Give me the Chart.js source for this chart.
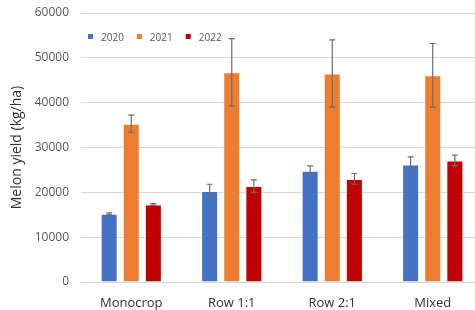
<!DOCTYPE html>
<html>
<head>
<meta charset="utf-8">
<script src="https://cdn.jsdelivr.net/npm/chart.js@4/dist/chart.umd.min.js"></script>
<style>
  html, body { margin: 0; padding: 0; background: #fff; overflow: hidden; }
  #wrap { width: 484px; height: 310px; }
</style>
</head>
<body>
<div id="wrap"><canvas id="chart"></canvas></div>
<script>
const categories = ['Monocrop', 'Row 1:1', 'Row 2:1', 'Mixed'];
const years = ['2020', '2021', '2022'];
const colors = ['#4472C4', '#ED7D31', '#C00000'];

const yield2020 = [15200, 20300, 24800, 26200];
const yield2021 = [35300, 46800, 46500, 46100];
const yield2022 = [17300, 21400, 23000, 27100];

const err2020 = [200, 1500, 1100, 1700];
const err2021 = [1900, 7500, 7500, 7100];
const err2022 = [200, 1400, 1200, 1200];

const yTicks = [0, 10000, 20000, 30000, 40000, 50000, 60000];

const series = [yield2020, yield2021, yield2022];
const errors = [err2020, err2021, err2022];

// error bars drawn from the y scale
const errorBars = {
  id: 'errorBars',
  afterDatasetsDraw(chart) {
    const ctx = chart.ctx;
    const y = chart.scales.y;
    ctx.save();
    ctx.strokeStyle = '#6e6e6e';
    ctx.lineWidth = 1.2;
    chart.data.datasets.forEach((ds, i) => {
      const meta = chart.getDatasetMeta(i);
      meta.data.forEach((bar, j) => {
        const v = ds.data[j], e = errors[i][j];
        const top = y.getPixelForValue(v + e);
        const bot = y.getPixelForValue(v - e);
        ctx.beginPath();
        ctx.moveTo(bar.x, top); ctx.lineTo(bar.x, bot);
        ctx.moveTo(bar.x - 3, top); ctx.lineTo(bar.x + 3, top);
        ctx.moveTo(bar.x - 3, bot); ctx.lineTo(bar.x + 3, bot);
        ctx.stroke();
      });
    });
    ctx.restore();
  }
};

// legend inside the plot, top left
const innerLegend = {
  id: 'innerLegend',
  afterDraw(chart) {
    const ctx = chart.ctx;
    ctx.save();
    ctx.font = '10px "Open Sans"';
    ctx.textBaseline = 'middle';
    let x = chart.chartArea.left + 7;
    const cy = 37;
    chart.data.datasets.forEach(ds => {
      ctx.fillStyle = ds.backgroundColor;
      ctx.fillRect(x, cy - 3, 5, 5);
      ctx.fillStyle = '#595959';
      ctx.fillText(ds.label, x + 13, cy + 1);
      x += 13 + ctx.measureText(ds.label).width + 13;
    });
    ctx.restore();
  }
};

new Chart(document.getElementById('chart'), {
  type: 'bar',
  data: {
    labels: categories,
    datasets: years.map((yr, i) => ({
      label: yr,
      data: series[i],
      backgroundColor: colors[i],
      borderColor: 'rgba(255,255,255,0.35)',
      borderWidth: 1,
      categoryPercentage: 0.66,
      barPercentage: 0.77
    }))
  },
  options: {
    responsive: true,
    maintainAspectRatio: false,
    animation: false,
    layout: { padding: { top: 13, right: 1, left: 0, bottom: 0 } },
    plugins: {
      legend: { display: false },
      tooltip: { enabled: false }
    },
    scales: {
      y: {
        min: 0,
        max: 60000,
        afterBuildTicks: (axis) => { axis.ticks = yTicks.map(v => ({ value: v })); },
        afterFit: (axis) => {
          axis.width = 81;
          // tick padding would otherwise push the plot top down
          axis.paddingTop = 0;
          axis.paddingBottom = 0;
        },
        grid: { color: '#d9d9d9', drawTicks: false },
        border: { display: false },
        ticks: {
          padding: 12,
          color: '#595959',
          font: { family: 'Open Sans', size: 12 },
          callback: v => String(v)
        },
        title: {
          display: true,
          text: 'Melon yield (kg/ha)',
          color: '#333333',
          font: { family: 'Open Sans', size: 14 },
          padding: { top: 9, bottom: 4 }
        }
      },
      x: {
        afterFit: (axis) => { axis.height = 28; },
        grid: { display: false, drawTicks: false },
        border: { display: true, color: '#d9d9d9' },
        ticks: {
          padding: 13,
          color: '#333333',
          font: { family: 'Open Sans', size: 13 }
        }
      }
    }
  },
  plugins: [errorBars, innerLegend]
});
</script>
</body>
</html>
